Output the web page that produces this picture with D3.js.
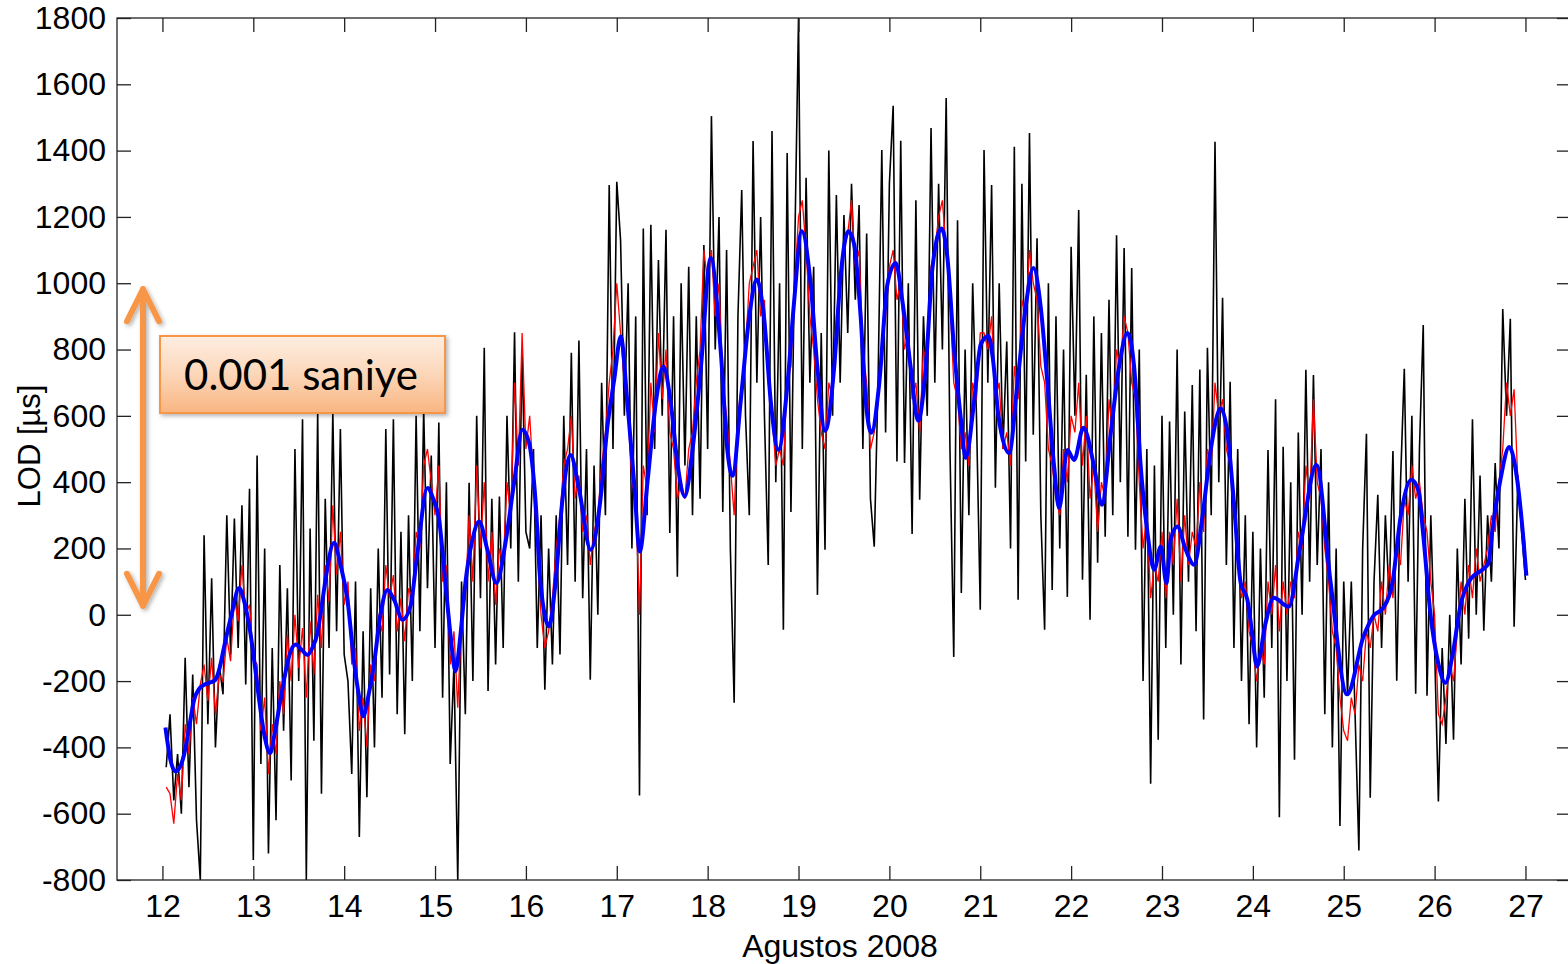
<!DOCTYPE html>
<html>
<head>
<meta charset="utf-8">
<script src="https://cdn.jsdelivr.net/npm/d3@7"></script>
<style>
    body { margin: 0; background: #fff; }
    svg { display: block; }
</style>
</head>
<body>
<svg id="chart" width="1568" height="964"></svg>
<script>
// hourly LOD samples (µs), first sample at 12 Aug 01:00, last at 27 Aug 00:00
let blackLod = [
    -460, -300, -560, -420, -600, -130, -520, -180, -620, -800, 240, -330, 110, -400, -150, -240, 300, -120, 290, -100, 330, -210, 380, -740,
    480, -450, 200, -720, -100, -620, 150, -350, 80, -500, 500, -200, 590, -800, 260, -380, 610, -540, 350, -100, 610, -50, 560, -120,
    -200, -480, 100, -670, -50, -550, 80, -400, 200, -250, 560, -180, 590, -300, 250, -360, 300, -200, 600, -50, 620, 80, 480, -100,
    580, -250, 400, -450, -150, -800, 100, -300, 398, -200, 600, 50, 805, -230, 350, -150, 357, -100, 600, 200, 852, 100, 800, 250,
    200, 500, -100, 300, -226, 200, -150, 300, -120, 600, 150, 790, 100, 827, 50, 500, -196, 450, 0, 700, 300, 1296, 500, 1306,
    1130, 600, 1000, 200, 900, -545, 1165, 300, 1176, 500, 1070, 600, 1161, 247, 900, 115, 1000, 450, 1050, 300, 900, 350, 1115, 500,
    1504, 800, 1200, 310, 1100, 200, -265, 900, 1281, 600, 300, 1429, 700, 1200, 600, 150, 1459, 400, 1000, -45, 1393, 310, 1100, 1800,
    500, 1318, 700, 1050, 60, 850, 196, 1400, 600, 1266, 700, 1206, 850, 1300, 950, 1236, 500, 1150, 350, 205, 700, 1402, 550, 1300,
    1535, 462, 1430, 458, 1000, 244, 1250, 347, 900, 600, 1468, 700, 1300, 800, 1559, 500, -127, 1190, 66, 800, 300, 1000, 600, 15,
    1402, 700, 1296, 383, 1000, 500, 824, 200, 1412, 45, 1300, 462, 1453, 543, 1136, 300, -45, 1000, 75, 900, 200, 800, 54, 1110,
    600, 1221, 106, 724, -15, 900, 157, 850, 235, 950, 300, 1145, 400, 1106, 235, 1046, 196, 800, -200, 500, -510, 450, -377, 600,
    -100, 583, 0, 800, -150, 613, 100, 693, -50, 740, -316, 805, 300, 1427, 400, 956, 150, 703, -100, 500, -200, 300, -330, 250,
    -400, 200, -250, 497, -100, 650, -611, 507, -200, 400, -437, 550, 0, 739, 100, 723, 150, 500, -300, 400, -400, 200, -637, 100,
    -240, 100, -300, -711, 200, 546, -552, 100, 362, -100, 300, 50, 494, -199, 400, 742, 100, 600, -238, 500, 874, -244, 300, -100,
    -563, -100, -390, 0, -377, 200, -150, 350, -72, 590, 0, 420, -48, 300, 100, 458, 200, 922, 600, 893, -36, 420, 250, 105,
];

let redLod = [
    -520, -540, -630, -480, -560, -330, -420, -250, -330, -210, -150, -260, -130, -300, -180, -200, -70, -140, 50, -20, 150, 0, 30, -130,
    -150, -350, -250, -480, -330, -420, -200, -300, -60, -200, 0, -160, -40, -250, -20, -180, 60, -100, 150, 40, 330, 120, 250, 30,
    100, -150, -100, -350, -250, -400, -150, -200, 0, -50, 150, 50, 120, -50, 50, -80, 80, 50, 250, 200, 450, 500, 400, 300,
    450, 100, 150, -150, -50, -280, 0, 50, 300, 100, 450, 200, 400, 100, 250, 30, 200, 150, 400, 300, 700, 450, 850, 500,
    600, 400, 200, 0, -100, -50, 50, 200, 300, 450, 500, 600, 350, 420, 250, 300, 150, 250, 300, 450, 550, 700, 800, 1000,
    850, 700, 600, 400, 350, 0, 450, 380, 700, 550, 850, 650, 800, 550, 500, 350, 400, 350, 500, 550, 700, 800, 1100, 1000,
    1100, 900, 1000, 700, 600, 450, 300, 600, 700, 800, 1000, 1050, 1100, 900, 950, 700, 600, 450, 500, 450, 700, 750, 1000, 1200,
    1250, 1100, 900, 800, 650, 550, 500, 700, 650, 900, 1000, 1100, 1150, 1250, 1050, 1100, 800, 700, 500, 550, 650, 800, 900, 1050,
    1100, 950, 1000, 800, 850, 650, 700, 550, 800, 750, 1050, 1100, 1200, 1250, 1100, 950, 700, 650, 500, 550, 450, 700, 650, 850,
    850, 800, 900, 650, 700, 500, 550, 450, 750, 650, 950, 900, 1100, 1000, 950, 750, 700, 500, 450, 350, 300, 500, 400, 600,
    550, 700, 450, 600, 350, 450, 250, 400, 350, 650, 550, 800, 750, 900, 850, 700, 650, 400, 200, 300, 50, 150, 100, 250,
    50, 250, 150, 350, 100, 300, 150, 250, 200, 400, 250, 500, 450, 700, 600, 650, 500, 450, 300, 200, 50, 100, -50, -100,
    -200, -100, -150, 100, 0, 150, -50, 100, 0, 100, 50, 250, 200, 450, 350, 650, 400, 350, 200, 100, -50, -100, -250, -350,
    -380, -250, -300, -150, -200, -50, -100, 0, -50, 100, 0, 150, 50, 200, 150, 350, 300, 450, 350, 400, 300, 250, 100, 0,
    -300, -330, -250, -150, -200, -50, 100, 0, 150, 50, 200, 100, 150, 200, 300, 250, 400, 500, 700, 600, 680, 400, 300, 200,
];

// smoothed series, read at its turning points
let blueDays = [
    12.033, 12.09, 12.143, 12.2, 12.24, 12.3, 12.349, 12.4, 12.459, 12.52, 12.583, 12.63, 12.679, 12.76, 12.844, 12.9, 12.968,
    13.02, 13.064, 13.12, 13.185, 13.24, 13.299, 13.35, 13.394, 13.467, 13.53, 13.596, 13.65, 13.706, 13.75, 13.794, 13.889, 13.96,
    14.036, 14.11, 14.16, 14.209, 14.27, 14.33, 14.402, 14.476, 14.55, 14.641, 14.729, 14.806, 14.916, 14.98,
    15.045, 15.114, 15.17, 15.224, 15.28, 15.334, 15.411, 15.485, 15.576, 15.676, 15.775, 15.87, 15.962,
    16.035, 16.105, 16.16, 16.256, 16.325, 16.402, 16.49, 16.586, 16.713, 16.82, 16.897, 16.971,
    17.044, 17.117, 17.191, 17.253, 17.337, 17.429, 17.513, 17.594, 17.667, 17.748, 17.833, 17.924,
    18.034, 18.144, 18.218, 18.273, 18.364, 18.456, 18.54, 18.621, 18.694, 18.779, 18.878, 18.952,
    19.035, 19.134, 19.208, 19.293, 19.392, 19.465, 19.549, 19.612, 19.685, 19.74, 19.802, 19.887, 19.978,
    20.07, 20.143, 20.235, 20.316, 20.4, 20.474, 20.573, 20.639, 20.713, 20.785, 20.84, 20.933,
    21.005, 21.09, 21.14, 21.2, 21.318, 21.409, 21.5, 21.585, 21.665, 21.739, 21.813, 21.868, 21.959,
    22.033, 22.135, 22.253, 22.337, 22.436, 22.528, 22.62, 22.693, 22.766, 22.84, 22.914, 22.987,
    23.049, 23.096, 23.17, 23.261, 23.354, 23.445, 23.536, 23.646, 23.72, 23.789, 23.866, 23.94, 23.99,
    24.045, 24.136, 24.229, 24.394, 24.523, 24.699, 24.853,
    25.037, 25.217, 25.327, 25.436, 25.536, 25.624, 25.745, 25.822, 25.877, 25.954,
    26.042, 26.119, 26.196, 26.284, 26.394, 26.526, 26.591, 26.636, 26.724, 26.821, 26.909, 26.975, 27.01,
];
let blueLod = [
    -340, -440, -472, -455, -420, -330, -256, -225, -211, -205, -196, -160, -96, 0, 81, 40, -55,
    -160, -256, -360, -417, -350, -256, -180, -125, -90, -105, -121, -100, -55, 20, 105, 217, 150,
    45, -145, -240, -306, -240, -145, 5, 75, 45, -15, 25, 187, 382, 350,
    286, 96, -60, -170, -60, 96, 226, 281, 196, 96, 217, 398, 558,
    518, 347, 96, -35, 96, 347, 482, 377, 196, 347, 568, 708,
    839, 639, 398, 191, 398, 639, 749, 639, 458, 357, 497, 740,
    1076, 796, 494, 419, 645, 895, 1011, 895, 645, 498, 694, 946,
    1157, 996, 745, 555, 745, 1026, 1157, 1117, 895, 645, 549, 694, 996,
    1061, 946, 745, 585, 745, 1046, 1165, 1076, 796, 594, 473, 645,
    815, 841, 770, 600, 488, 699, 929, 1046, 929, 699, 447, 322, 497,
    467, 564, 447, 332, 548, 749, 850, 749, 447, 247, 136, 206,
    96, 226, 266, 196, 151, 296, 497, 623, 548, 347, 96, 45, -50,
    -156, -30, 51, 24, 209, 452, 103,
    -240, -66, -3, 21, 96, 292, 407, 374, 235, 3,
    -148, -205, -124, 27, 107, 136, 154, 256, 407, 506, 407, 235, 118,
];

let xTicks = [12, 13, 14, 15, 16, 17, 18, 19, 20, 21, 22, 23, 24, 25, 26, 27];
let yTicks = [-800, -600, -400, -200, 0, 200, 400, 600, 800, 1000, 1200, 1400, 1600, 1800];
let xTitle = "Agustos 2008";
let yTitle = "LOD [µs]";
let noteText = "0.001 saniye";

let sizes = {
    left: 117,
    right: 1570.9,
    top: 18,
    bottom: 880,
    tick: 14,
};

let font = "'Liberation Sans', Arial, sans-serif";
let orange = "#F79646";

let svg = d3.select("#chart");

let x = d3.scaleLinear().domain([11.5, 27.5]).range([sizes.left, sizes.right]);
let y = d3.scaleLinear().domain([-800, 1800]).range([sizes.bottom, sizes.top]);

let defs = svg.append("defs");

defs.append("clipPath")
    .attr("id", "plotClip")
    .append("rect")
    .attr("x", sizes.left)
    .attr("y", sizes.top)
    .attr("width", sizes.right - sizes.left)
    .attr("height", sizes.bottom - sizes.top);

let grad = defs.append("linearGradient")
    .attr("id", "noteFill")
    .attr("x1", 0).attr("y1", 0)
    .attr("x2", 0).attr("y2", 1);
grad.append("stop").attr("offset", "0%").attr("stop-color", "#FEEEE2");
grad.append("stop").attr("offset", "45%").attr("stop-color", "#FCD9BD");
grad.append("stop").attr("offset", "100%").attr("stop-color", "#F9B581");

let shadow = defs.append("filter")
    .attr("id", "shadow")
    .attr("x", "-20%").attr("y", "-20%")
    .attr("width", "140%").attr("height", "140%");
shadow.append("feDropShadow")
    .attr("dx", 2).attr("dy", 2)
    .attr("stdDeviation", 2)
    .attr("flood-color", "#000")
    .attr("flood-opacity", 0.3);

// hourly series
let hourly = d3.line()
    .x((d, i) => x(12 + (i + 1) / 24))
    .y((d) => y(d));

let lines = svg.append("g").attr("clip-path", "url(#plotClip)");

lines.append("path")
    .datum(blackLod)
    .attr("d", hourly)
    .attr("fill", "none")
    .attr("stroke", "#000")
    .attr("stroke-width", 1.6);

lines.append("path")
    .datum(redLod)
    .attr("d", hourly)
    .attr("fill", "none")
    .attr("stroke", "#ff0000")
    .attr("stroke-width", 1.3);

let smooth = d3.line()
    .x((d) => x(d[0]))
    .y((d) => y(d[1]))
    .curve(d3.curveMonotoneX);

lines.append("path")
    .datum(d3.zip(blueDays, blueLod))
    .attr("d", smooth)
    .attr("fill", "none")
    .attr("stroke", "#0000ff")
    .attr("stroke-width", 4)
    .attr("stroke-linejoin", "round");

// axes, MATLAB style: inward ticks on all four sides
function styleAxis(g) {
    g.select(".domain").remove();
    g.selectAll(".tick line").attr("stroke", "#222").attr("stroke-width", 1.3);
    g.selectAll(".tick text")
        .attr("fill", "#000")
        .style("font-family", font)
        .style("font-size", "32px");
}

let plain = (d) => String(d);

svg.append("g")
    .attr("transform", `translate(${sizes.left},0)`)
    .call(d3.axisLeft(y).tickValues(yTicks).tickFormat(plain).tickSize(-sizes.tick).tickPadding(11))
    .call(styleAxis);

svg.append("g")
    .attr("transform", `translate(${sizes.right},0)`)
    .call(d3.axisRight(y).tickValues(yTicks).tickSize(-sizes.tick).tickFormat(""))
    .call(styleAxis);

svg.append("g")
    .attr("transform", `translate(0,${sizes.bottom})`)
    .call(d3.axisBottom(x).tickValues(xTicks).tickFormat(plain).tickSize(-sizes.tick).tickPadding(14))
    .call(styleAxis);

svg.append("g")
    .attr("transform", `translate(0,${sizes.top})`)
    .call(d3.axisTop(x).tickValues(xTicks).tickSize(-sizes.tick).tickFormat(""))
    .call(styleAxis);

svg.append("rect")
    .attr("x", sizes.left)
    .attr("y", sizes.top)
    .attr("width", sizes.right - sizes.left)
    .attr("height", sizes.bottom - sizes.top)
    .attr("fill", "none")
    .attr("stroke", "#222")
    .attr("stroke-width", 1.3);

svg.append("text")
    .attr("x", 840)
    .attr("y", 957)
    .attr("text-anchor", "middle")
    .style("font-family", font)
    .style("font-size", "32px")
    .text(xTitle);

svg.append("text")
    .attr("transform", `translate(40,${(sizes.top + sizes.bottom) / 2 - 3}) rotate(-90)`)
    .attr("text-anchor", "middle")
    .style("font-family", font)
    .style("font-size", "31px")
    .text(yTitle);

// annotation: double arrow spanning 1000 µs and its label
let note = svg.append("g").attr("filter", "url(#shadow)");
let arrowX = 143;
let arrowTop = y(1000) + 6;
let arrowBottom = y(0) - 9;

note.append("line")
    .attr("x1", arrowX).attr("x2", arrowX)
    .attr("y1", arrowTop).attr("y2", arrowBottom)
    .attr("stroke", orange)
    .attr("stroke-width", 6)
    .attr("stroke-linecap", "round");

note.append("path")
    .attr("d", `M${arrowX - 16},${arrowTop + 32}L${arrowX},${arrowTop}L${arrowX + 16},${arrowTop + 32}`)
    .attr("fill", "none")
    .attr("stroke", orange)
    .attr("stroke-width", 6)
    .attr("stroke-linecap", "round")
    .attr("stroke-linejoin", "round");

note.append("path")
    .attr("d", `M${arrowX - 16},${arrowBottom - 32}L${arrowX},${arrowBottom}L${arrowX + 16},${arrowBottom - 32}`)
    .attr("fill", "none")
    .attr("stroke", orange)
    .attr("stroke-width", 6)
    .attr("stroke-linecap", "round")
    .attr("stroke-linejoin", "round");

note.append("rect")
    .attr("x", 160)
    .attr("y", 336)
    .attr("width", 285)
    .attr("height", 77)
    .attr("fill", "url(#noteFill)")
    .attr("stroke", orange)
    .attr("stroke-width", 2);

svg.append("text")
    .attr("x", 301)
    .attr("y", 390)
    .attr("text-anchor", "middle")
    .style("font-family", "Lato, 'Open Sans', sans-serif")
    .style("font-size", "42px")
    .attr("fill", "#000")
    .text(noteText);
</script>
</body>
</html>
